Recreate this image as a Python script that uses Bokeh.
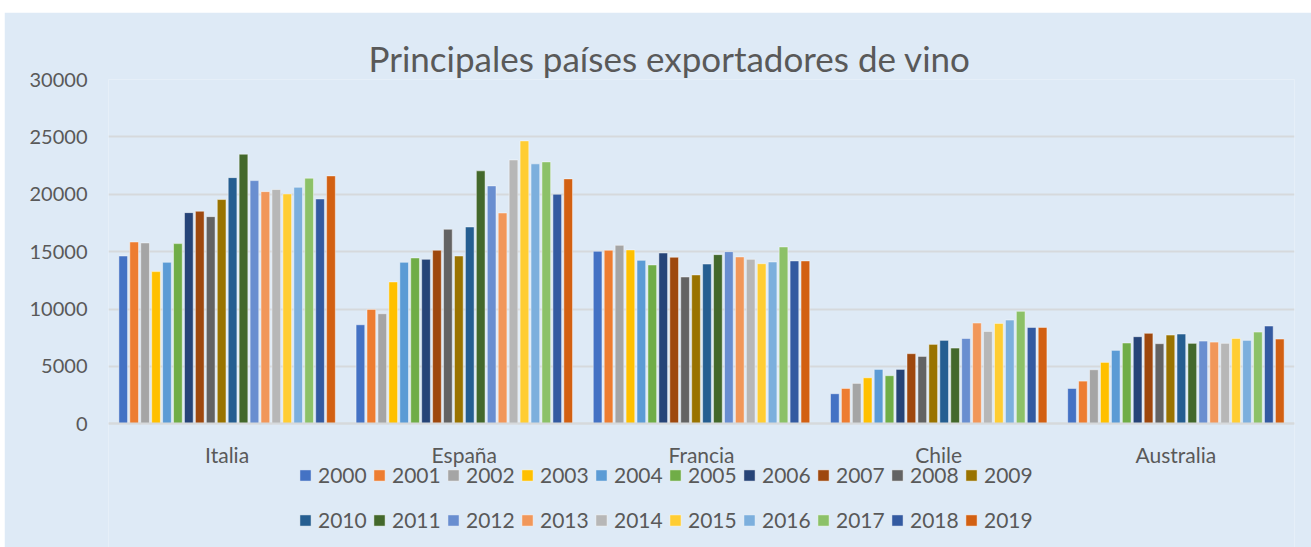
from bokeh.plotting import figure
from bokeh.models import ColumnDataSource, FactorRange, Legend, LegendItem, FixedTicker
from bokeh.transform import dodge
from bokeh.embed import file_html
from bokeh.resources import INLINE

paises = ["Italia", "España", "Francia", "Chile", "Australia"]
years = [str(y) for y in range(2000, 2020)]
y_ticks = [0, 5000, 10000, 15000, 20000, 25000, 30000]

italia = [14620, 15840, 15760, 13260, 14070, 15700, 18400, 18520, 18050, 19540,
          21450, 23490, 21190, 20230, 20410, 20030, 20610, 21400, 19590, 21600]
espana = [8630, 9970, 9590, 12360, 14070, 14450, 14330, 15120, 16950, 14620,
          17150, 22040, 20730, 18370, 22990, 24650, 22650, 22820, 20000, 21340]
francia = [15030, 15120, 15550, 15150, 14240, 13840, 14880, 14510, 12790, 12970,
           13920, 14740, 15000, 14540, 14330, 13950, 14100, 15410, 14190, 14190]
chile = [2620, 3080, 3520, 4010, 4740, 4190, 4740, 6110, 5870, 6920,
         7270, 6600, 7440, 8780, 8050, 8750, 9040, 9800, 8400, 8400]
australia = [3080, 3720, 4710, 5350, 6400, 7040, 7590, 7880, 6980, 7730,
             7820, 7010, 7210, 7120, 7010, 7440, 7270, 7990, 8520, 7380]

colors = ["#4472C4", "#ED7D31", "#A5A5A5", "#FFC000", "#5B9BD5", "#70AD47",
          "#264478", "#9E480E", "#636363", "#997300", "#255E91", "#43682B",
          "#698ED0", "#F1975A", "#B7B7B7", "#FFCD33", "#7CAFDD", "#8CC168",
          "#335AA1", "#D26012"]

series = [italia, espana, francia, chile, australia]
data = {"pais": paises}
for i, y in enumerate(years):
    data[y] = [s[i] for s in series]
source = ColumnDataSource(data)

BG = "#DEEAF6"
TXT = "#595959"
GRID = "#D6D9DC"

# frame runs to the figure bottom; the area below 0 holds labels and legend
p = figure(x_range=FactorRange(*paises), y_range=(-10778, 30000),
           width=1307, height=535, output_backend="svg", toolbar_location=None,
           title="Principales países exportadores de vino",
           min_border_left=104, min_border_right=17, min_border_top=67,
           min_border_bottom=0)
p.styles = {"margin-top": "12px", "margin-left": "4px"}

p.background_fill_color = BG
p.border_fill_color = BG
p.outline_line_color = None

p.title.text_font = "Lato"
p.title.text_font_size = "35px"
p.title.text_font_style = "normal"
p.title.text_color = TXT
p.title.align = "left"
p.title.offset = 260
p.title.standoff = 2

slot = 10.93 / 237.1
bw = 8.7 / 237.1
items = []
for i, y in enumerate(years):
    r = p.vbar(x=dodge("pais", (i - 9.5) * slot, range=p.x_range), top=y, width=bw,
               source=source, fill_color=colors[i], line_color="white",
               line_alpha=0.45, line_width=1)
    items.append(LegendItem(label=y, renderers=[r]))

legend = Legend(items=items, orientation="horizontal", nrows=2,
                location=(190, 5), padding=0, margin=0, spacing=0,
                glyph_width=14, glyph_height=14, label_standoff=6,
                label_width=54, label_height=45,
                label_text_font="Lato", label_text_font_size="21px",
                label_text_color=TXT, background_fill_alpha=0,
                border_line_color=None)
p.add_layout(legend, "center")

p.yaxis.ticker = FixedTicker(ticks=y_ticks)
p.yaxis.axis_line_color = None
p.yaxis.major_tick_line_color = None
p.yaxis.minor_tick_line_color = None
p.yaxis.major_label_standoff = 15
p.yaxis.major_label_text_font = "Lato"
p.yaxis.major_label_text_font_size = "20px"
p.yaxis.major_label_text_color = TXT

p.xaxis.fixed_location = 0
p.xaxis.axis_line_color = GRID
p.xaxis.axis_line_width = 2
p.xaxis.major_tick_line_color = None
p.xaxis.minor_tick_line_color = None
p.xaxis.major_label_standoff = 12
p.xaxis.major_label_text_font = "Lato"
p.xaxis.major_label_text_font_size = "21px"
p.xaxis.major_label_text_color = TXT

p.xgrid.grid_line_color = None
p.ygrid.grid_line_color = GRID
p.ygrid.grid_line_width = 2
p.x_range.range_padding = 0
p.x_range.group_padding = 0

open("out.html", "w").write(file_html(p, INLINE))
